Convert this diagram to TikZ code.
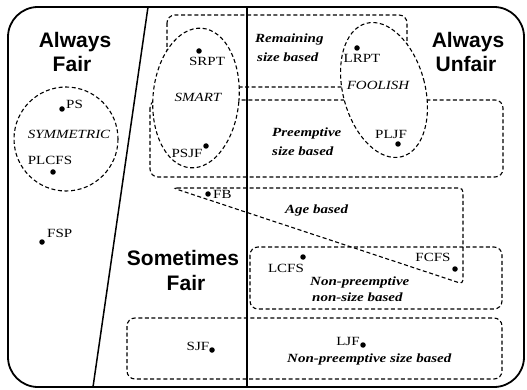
\documentclass[tikz,border=0pt]{standalone}
\usepackage{fontspec}
\setmainfont{Liberation Serif}
\newfontfamily\headfont{Liberation Sans}
\newcommand{\stretchtxt}[1]{\scalebox{1.2}[1]{#1}}
\begin{document}
\begin{tikzpicture}[x=1pt,y=-1pt,
  dashbox/.style={draw, line width=1.1pt, dash pattern=on 4pt off 2.6pt, rounded corners=8pt},
  dot/.style={circle, fill, inner sep=0pt, minimum size=5.5pt},
  lbl/.style={font=\fontsize{12.5}{14}\selectfont, inner sep=0pt, anchor=base},
  lblw/.style={lbl, anchor=base west},
  grp/.style={font=\fontsize{12.5}{15}\selectfont\bfseries\itshape, inner sep=0pt, anchor=base west},
  cls/.style={font=\fontsize{12.5}{14}\selectfont\itshape, inner sep=0pt, anchor=base},
  head/.style={font=\headfont\bfseries\fontsize{21}{24}\selectfont, inner sep=0pt, anchor=base},
  smartell/.style={rotate around={-5:(196,98)}},
  foolell/.style={rotate around={15:(384,90)}},
]
\useasboundingbox (0,0) rectangle (527,390);
% dashed groups
\draw[dashbox] (167,15) rectangle (407,87);
\draw[dashbox] (150,100) rectangle (503,177);
% the box lines do not show inside the two ellipses
\fill[white, smartell] (196,98) ellipse [x radius=43, y radius=70];
\fill[white, foolell] (384,90) ellipse [x radius=41, y radius=69];
\draw[dashbox, smartell] (196,98) ellipse [x radius=43, y radius=70];
\draw[dashbox, foolell] (384,90) ellipse [x radius=41, y radius=69];
\draw[dashbox, rounded corners=4pt] (173,188) -- (463,188) -- (463,284) -- cycle;
\draw[dashbox] (250,247) rectangle (502,309);
\draw[dashbox] (127,318) rectangle (502,379);
\draw[dashbox] (66,139) circle [radius=52];
% frame and dividers
\draw[line width=1.8pt, rounded corners=30pt] (8,7) rectangle (524,387);
\draw[line width=1.5pt] (148,7) -- (93,387);
\draw[line width=1.5pt] (247,7) -- (247,387);
% headings
\node[head] (af1) at (75,48) {Always};
\node[head] (af2) at (72,72) {Fair};
\node[head] (au1) at (468,48) {Always};
\node[head] (au2) at (466,72) {Unfair};
\node[head] (sf1) at (183,265) {Sometimes};
\node[head] (sf2) at (186,290) {Fair};
% class names
\node[cls] (sym) at (69,139) {\stretchtxt{SYMMETRIC}};
\node[cls] (smart) at (198,102) {\stretchtxt{SMART}};
\node[cls] (fool) at (378,90) {\stretchtxt{FOOLISH}};
% group names
\node[grp] (rem1) at (255,43) {\stretchtxt{Remaining}};
\node[grp] (rem2) at (257,62) {\stretchtxt{size based}};
\node[grp] (pre1) at (272,137) {\stretchtxt{Preemptive}};
\node[grp] (pre2) at (272,156) {\stretchtxt{size based}};
\node[grp] (age) at (285,213) {\stretchtxt{Age based}};
\node[grp] (npn1) at (310,285) {\stretchtxt{Non-preemptive}};
\node[grp] (npn2) at (312,301) {\stretchtxt{non-size based}};
\node[grp] (nps) at (287,362) {\stretchtxt{Non-preemptive size based}};
% policies
\node[dot] (dps) at (62,109) {};
\node[lblw] (ps) at (66,109) {\stretchtxt{PS}};
\node[dot] (dplcfs) at (53,172) {};
\node[lbl] (plcfs) at (50,165) {\stretchtxt{PLCFS}};
\node[dot] (dfsp) at (42,242) {};
\node[lblw] (fsp) at (47,237) {\stretchtxt{FSP}};
\node[dot] (dsrpt) at (199,51) {};
\node[lbl] (srpt) at (207,66) {\stretchtxt{SRPT}};
\node[dot] (dpsjf) at (206,146) {};
\node[lbl] (psjf) at (187,158) {\stretchtxt{PSJF}};
\node[dot] (dlrpt) at (357,48) {};
\node[lbl] (lrpt) at (362,63) {\stretchtxt{LRPT}};
\node[dot] (dpljf) at (398,144) {};
\node[lbl] (pljf) at (391,139) {\stretchtxt{PLJF}};
\node[dot] (dfb) at (208,194) {};
\node[lblw] (fb) at (213,199) {\stretchtxt{FB}};
\node[dot] (dlcfs) at (303,257) {};
\node[lbl] (lcfs) at (286,272) {\stretchtxt{LCFS}};
\node[dot] (dfcfs) at (455,269) {};
\node[lbl] (fcfs) at (433,261) {\stretchtxt{FCFS}};
\node[dot] (dsjf) at (212,350) {};
\node[lbl] (sjf) at (198,350) {\stretchtxt{SJF}};
\node[dot] (dljf) at (363,345) {};
\node[lbl] (ljf) at (348,345) {\stretchtxt{LJF}};
\end{tikzpicture}
\end{document}
